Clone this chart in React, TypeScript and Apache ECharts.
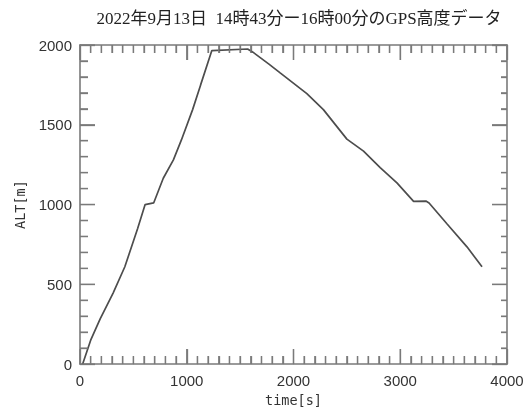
import React, { useEffect, useRef } from "react";
import * as echarts from "echarts";

const TITLE = "2022年9月13日  14時43分ー16時00分のGPS高度データ";
const X_NAME = "time[s]";
const Y_NAME = "ALT[m]";

const timeS = [
  25, 100, 190, 310, 420, 540, 610, 690, 780, 875, 950, 1055, 1130, 1235,
  1570, 1620, 1770, 1875, 2125, 2280, 2500, 2656, 2812, 2969, 3125, 3240,
  3270, 3437, 3625, 3766,
];
const altM = [
  0, 150, 285, 445, 610, 850, 1000, 1010, 1165, 1280, 1405, 1595, 1750, 1965,
  1975, 1955, 1880, 1825, 1695, 1595, 1410, 1335, 1232, 1136, 1020, 1022,
  1010, 880, 735, 610,
];

const X_MIN = 0;
const X_MAX = 4000;
const X_STEP = 1000;
const X_MINOR = 100;
const Y_MIN = 0;
const Y_MAX = 2000;
const Y_STEP = 500;
const Y_MINOR = 100;

export default function App() {
  const ref = useRef<HTMLDivElement>(null);
  useEffect(() => {
    if (!ref.current) return;
    const chart = echarts.init(ref.current, undefined, { renderer: "svg" });
    const frame = "#7a7a7a";
    const labelFont = "'Liberation Sans', Arial, sans-serif";
    const monoFont = "'DejaVu Sans Mono', monospace";
    const fmt = (v: number) => String(v);

    // inward tick marks: [x, y, dx(px), dy(px)]
    const tickItems: number[][] = [];
    for (let v = X_MIN; v <= X_MAX; v += X_MINOR) {
      const len = v % X_STEP === 0 ? 15 : 8;
      tickItems.push([v, Y_MIN, 0, -len]);
      tickItems.push([v, Y_MAX, 0, len]);
    }
    for (let v = Y_MIN; v <= Y_MAX; v += Y_MINOR) {
      const major = v % Y_STEP === 0;
      tickItems.push([X_MIN, v, major ? 15 : 8, 0]);
      tickItems.push([X_MAX, v, major ? -15 : -6, 0]);
    }

    const frameAxis = (pos: string, split: number, minorLen: number) => ({
      type: "value",
      position: pos,
      axisLine: { show: true, onZero: false, lineStyle: { color: frame, width: 1.6 } },
      axisTick: { show: true, inside: true, length: 15, lineStyle: { color: frame, width: 1.3 } },
      minorTick: { show: true, splitNumber: split, length: minorLen, lineStyle: { color: frame, width: 1.3 } },
      splitLine: { show: false },
      minorSplitLine: { show: false },
    });
    const xr = { min: X_MIN, max: X_MAX, interval: X_STEP };
    const yr = { min: Y_MIN, max: Y_MAX, interval: Y_STEP };
    chart.setOption({
      animation: false,
      title: {
        text: TITLE,
        left: 294,
        top: 5,
        textAlign: "center",
        textStyle: {
          fontFamily: "'Liberation Serif', 'Noto Sans CJK JP', serif",
          fontSize: 17,
          fontWeight: "normal",
          color: "#222",
        },
      },
      grid: { left: 80, top: 45, right: 20, bottom: 39 },
      xAxis: [
        {
          ...frameAxis("bottom", 10, 8),
          ...xr,
          axisLabel: { fontFamily: labelFont, fontSize: 15, color: "#333", margin: 9, formatter: fmt },
          name: X_NAME,
          nameLocation: "middle",
          nameGap: 25,
          nameTextStyle: { fontFamily: monoFont, fontSize: 13.5, color: "#333" },
        },
        { ...frameAxis("top", 10, 8), ...xr, axisLabel: { show: false } },
      ],
      yAxis: [
        {
          ...frameAxis("left", 5, 8),
          ...yr,
          axisLabel: { fontFamily: labelFont, fontSize: 15, color: "#333", margin: 8, formatter: fmt },
          name: Y_NAME,
          nameLocation: "middle",
          nameGap: 53,
          nameRotate: 90,
          nameTextStyle: { fontFamily: monoFont, fontSize: 13.5, color: "#333" },
        },
        { ...frameAxis("right", 5, 6), ...yr, axisLabel: { show: false } },
      ],
      series: [
        {
          type: "custom",
          coordinateSystem: "cartesian2d",
          xAxisIndex: 0,
          yAxisIndex: 0,
          z: 5,
          dimensions: ["x", "y", "dx", "dy"],
          encode: { x: "x", y: "y" },
          data: tickItems,
          renderItem: (_params: any, api: any) => {
            const p = api.coord([api.value(0), api.value(1)]);
            return {
              type: "line",
              shape: {
                x1: p[0],
                y1: p[1],
                x2: p[0] + api.value(2),
                y2: p[1] + api.value(3),
              },
              style: { stroke: frame, lineWidth: 1.3 },
            };
          },
        },
        {
          type: "line",
          xAxisIndex: 0,
          yAxisIndex: 0,
          showSymbol: false,
          symbol: "none",
          data: timeS.map((t, i) => [t, altM[i]]),
          lineStyle: { color: "#4d4d4d", width: 1.7 },
        },
      ],
    });

    return () => chart.dispose();
  }, []);
  return (
    <div
      ref={ref}
      style={{ position: "fixed", left: 0, top: 0, width: 527, height: 412 }}
    />
  );
}
